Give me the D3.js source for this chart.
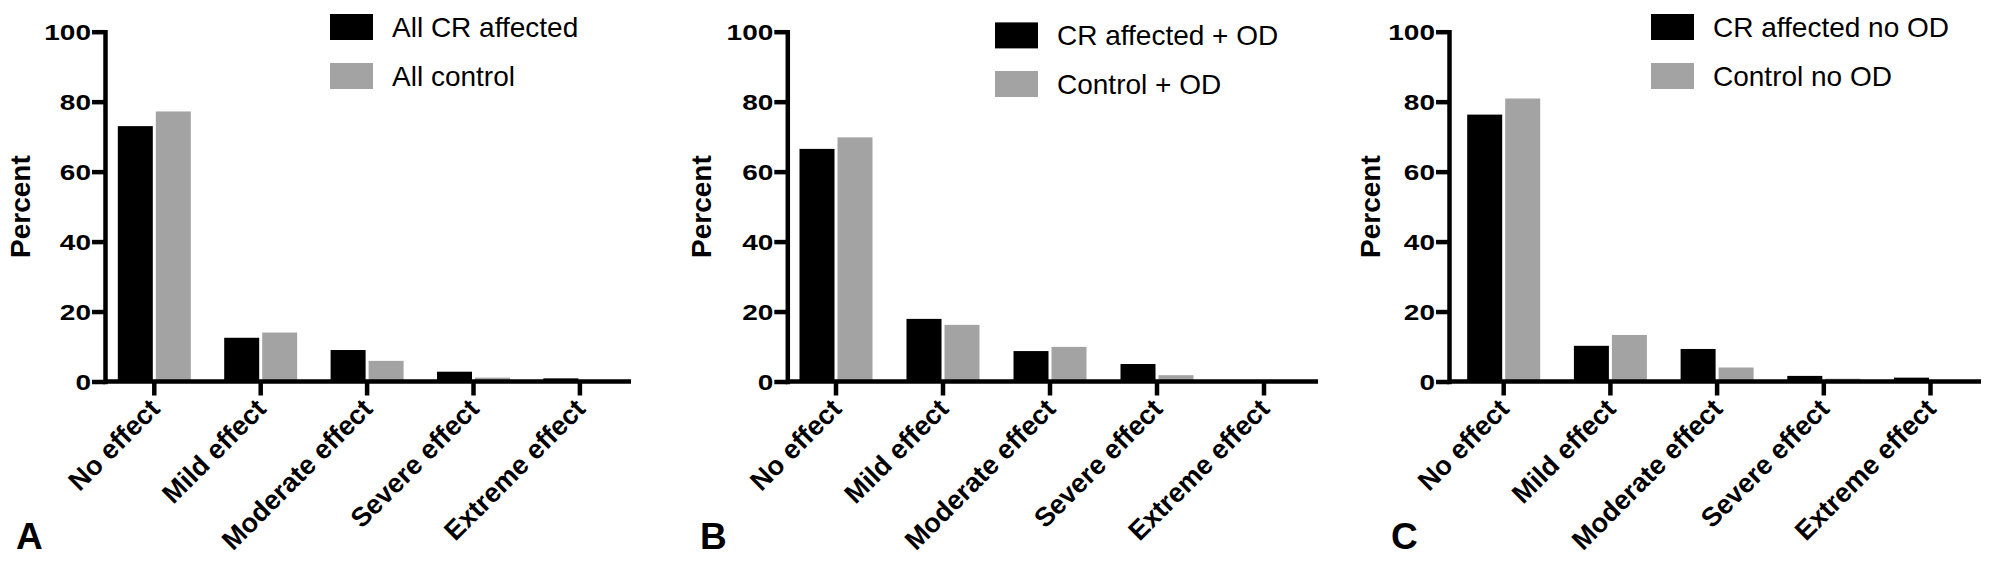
<!DOCTYPE html>
<html>
<head>
<meta charset="utf-8">
<script src="https://cdn.jsdelivr.net/npm/d3@7"></script>
<style>
  html, body { margin: 0; padding: 0; background: #fff; }
  svg { display: block; }
  text { font-family: "Liberation Sans", Arial, Helvetica, sans-serif; fill: #000; }
</style>
</head>
<body>
<svg id="chart" width="1992" height="566"></svg>
<script>
// ---------- data ----------
const categories = ["No effect", "Mild effect", "Moderate effect", "Severe effect", "Extreme effect"];
const yTicks = [0, 20, 40, 60, 80, 100];

const panelLetters = ["A", "B", "C"];

const legendA = ["All CR affected", "All control"];
const legendB = ["CR affected + OD", "Control + OD"];
const legendC = ["CR affected no OD", "Control no OD"];

const affectedA = [73.0, 12.5, 9.0, 2.8, 0.9];
const controlA  = [77.2, 14.0, 5.9, 1.1, 0.0];

const affectedB = [66.5, 17.9, 8.7, 5.0, 0.0];
const controlB  = [69.8, 16.2, 9.9, 1.8, 0.0];

const affectedC = [76.3, 10.2, 9.3, 1.6, 1.1];
const controlC  = [80.9, 13.3, 4.0, 0.8, 0.0];

const seriesKeys = ["affected", "control"];
const seriesColors = ["#000000", "#a3a3a3"];

// ---------- layout ----------
const panels = [
  { letter: panelLetters[0], legend: legendA, a: affectedA, c: controlA,
    axisX: 105, firstTick: 154.3, step: 106.4, axisEnd: 631,
    legX: 330, legY: 14, legGap: 49, ylabX: 30, letterX: 16 },
  { letter: panelLetters[1], legend: legendB, a: affectedB, c: controlB,
    axisX: 787.3, firstTick: 836, step: 107, axisEnd: 1318,
    legX: 995, legY: 22.4, legGap: 48.6, ylabX: 711, letterX: 700 },
  { letter: panelLetters[2], legend: legendC, a: affectedC, c: controlC,
    axisX: 1449, firstTick: 1503.7, step: 106.7, axisEnd: 1981,
    legX: 1651, legY: 14, legGap: 49, ylabX: 1380, letterX: 1391 }
];

const y0 = 381.5, y100 = 31.7;
const svg = d3.select("#chart");

const y = d3.scaleLinear().domain([0, 100]).range([y0, y100]);

panels.forEach(p => {
  const g = svg.append("g");
  const pi = 1 - 73 / p.step;
  const x0 = d3.scaleBand().domain(categories)
    .range([p.firstTick - p.step / 2, p.firstTick + 4.5 * p.step])
    .paddingInner(pi).paddingOuter(pi / 2);
  const x1 = d3.scaleBand().domain(seriesKeys).range([0, x0.bandwidth()]).paddingInner(3 / 38);

  const rows = categories.map((cat, i) => ({ cat, affected: p.a[i], control: p.c[i] }));

  // bars
  const grp = g.append("g").selectAll("g").data(rows).join("g")
    .attr("transform", d => `translate(${x0(d.cat)},0)`);
  grp.selectAll("rect").data(d => seriesKeys.map((k, j) => ({ k, v: d[k], j })))
    .join("rect")
    .attr("x", d => x1(d.k))
    .attr("width", x1.bandwidth())
    .attr("y", d => y(d.v))
    .attr("height", d => y(0) - y(d.v))
    .attr("fill", d => seriesColors[d.j]);

  // x axis line
  g.append("line")
    .attr("x1", p.axisX).attr("x2", p.axisEnd)
    .attr("y1", y(0)).attr("y2", y(0))
    .attr("stroke", "#000").attr("stroke-width", 4.5);

  // x axis ticks + labels
  const xa = g.append("g").attr("transform", `translate(0,${y(0)})`)
    .call(d3.axisBottom(x0).tickSize(14).tickSizeOuter(0));
  xa.select(".domain").remove();
  xa.selectAll(".tick line").attr("stroke", "#000").attr("stroke-width", 4.5);
  xa.selectAll(".tick text")
    .attr("y", 0).attr("dy", 0)
    .attr("text-anchor", "end")
    .attr("transform", "translate(7,29) rotate(-45)")
    .style("font-size", "27px").style("font-weight", "bold")
    .style("font-family", '"Liberation Sans", Arial, sans-serif');

  // y axis
  const ya = g.append("g").attr("transform", `translate(${p.axisX},0)`)
    .call(d3.axisLeft(y).tickValues(yTicks).tickSize(13).tickSizeOuter(0));
  ya.select(".domain").attr("stroke", "#000").attr("stroke-width", 4.5).attr("stroke-linecap", "square");
  ya.selectAll(".tick line").attr("stroke", "#000").attr("stroke-width", 4.5);
  ya.selectAll(".tick text")
    .attr("x", 0).attr("dy", 0)
    .attr("text-anchor", "end")
    .attr("transform", "translate(-14,8) scale(1,0.8)")
    .style("font-size", "28px").style("font-weight", "bold")
    .style("font-family", '"Liberation Sans", Arial, sans-serif');

  // y label
  g.append("text")
    .attr("transform", `translate(${p.ylabX},${(y0 + y100) / 2}) rotate(-90)`)
    .attr("text-anchor", "middle")
    .style("font-size", "28px").style("font-weight", "bold")
    .text("Percent");

  // legend
  const lg = g.append("g");
  p.legend.forEach((lab, j) => {
    const ty = p.legY + j * p.legGap;
    lg.append("rect").attr("x", p.legX).attr("y", ty).attr("width", 43).attr("height", 26)
      .attr("fill", seriesColors[j]);
    lg.append("text").attr("x", p.legX + 62).attr("y", ty + 23)
      .style("font-size", "28px").text(lab);
  });

  // panel letter
  g.append("text").attr("x", p.letterX).attr("y", 549)
    .style("font-size", "37px").style("font-weight", "bold")
    .text(p.letter);
});
</script>
</body>
</html>
